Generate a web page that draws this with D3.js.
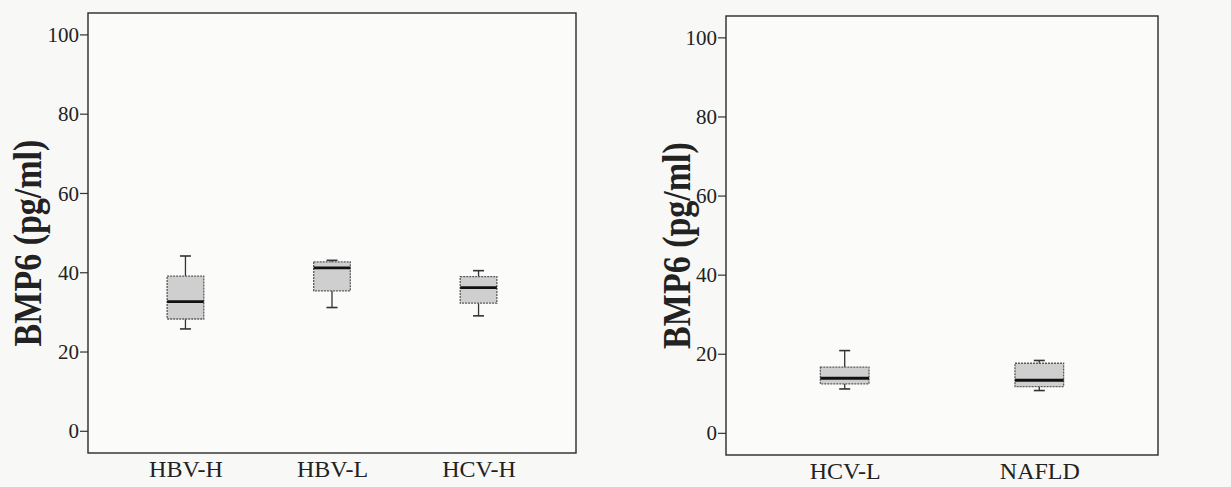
<!DOCTYPE html>
<html>
<head>
<meta charset="utf-8">
<script src="https://cdn.jsdelivr.net/npm/d3@7"></script>
<style>
  html, body { margin: 0; padding: 0; background: #f8f8f7; }
  svg { display: block; }
  text { font-family: "Liberation Serif", "Times New Roman", serif; fill: #222; }
</style>
</head>
<body>
<svg id="chart" width="1231" height="487"></svg>
<script>
// ---- Data ----
const yTicks = [0, 20, 40, 60, 80, 100];
const yLabel = "BMP6 (pg/ml)";

const cats1 = ["HBV-H", "HBV-L", "HCV-H"];
const min1  = [25.7, 31.1, 29.0];
const q1_1  = [28.2, 35.3, 32.2];
const med1  = [32.6, 41.1, 36.1];
const q3_1  = [39.0, 42.6, 38.9];
const max1  = [44.1, 43.0, 40.4];

const cats2 = ["HCV-L", "NAFLD"];
const min2  = [11.1, 10.7];
const q1_2  = [12.4, 11.7];
const med2  = [13.8, 13.3];
const q3_2  = [16.6, 17.6];
const max2  = [20.8, 18.3];

const svg = d3.select("#chart");

function panel(cfg) {
  const { left, right, top, bottom, padding, cats, mins, q1s, meds, q3s, maxs, labelX } = cfg;
  const g = svg.append("g");
  const x = d3.scalePoint().domain(cats).range([left, right]).padding(padding);
  const y = d3.scaleLinear().domain([-5.6, 105.4]).range([bottom, top]);

  // frame
  g.append("rect")
    .attr("x", left).attr("y", top)
    .attr("width", right - left).attr("height", bottom - top)
    .attr("fill", "#fbfbfa").attr("stroke", "#2a2a2a").attr("stroke-width", 1.4);

  // y axis
  const ax = g.append("g")
    .attr("transform", `translate(${left},0)`)
    .call(d3.axisLeft(y).tickValues(yTicks).tickSize(8).tickPadding(1));
  ax.select(".domain").remove();
  ax.selectAll(".tick line").attr("stroke", "#333").attr("stroke-width", 1.2);
  ax.selectAll(".tick text")
    .attr("font-family", "Liberation Serif")
    .attr("font-size", 21)
    .attr("fill", "#222")
    .attr("dy", "0.34em");

  // x labels
  const xa = g.append("g")
    .attr("transform", `translate(0,${bottom})`)
    .call(d3.axisBottom(x).tickSize(0).tickPadding(0));
  xa.select(".domain").remove();
  xa.selectAll(".tick text")
    .attr("font-family", "Liberation Serif")
    .attr("font-size", 24)
    .attr("fill", "#222")
    .attr("y", 0)
    .attr("dy", 24);

  // y title
  g.append("text")
    .attr("transform", `translate(${labelX},${(top + bottom) / 2 + 10}) scale(1.2,1) rotate(-90)`)
    .attr("text-anchor", "middle")
    .attr("dy", "0.35em")
    .attr("font-size", 34)
    .attr("font-weight", "bold")
    .attr("fill", "#151515")
    .text(yLabel);

  const bw = x.step() * 0.25;
  const cap = 11;
  const data = cats.map((c, i) => ({ c, lo: mins[i], q1: q1s[i], med: meds[i], q3: q3s[i], hi: maxs[i] }));
  const bx = g.selectAll(".box").data(data).enter().append("g").attr("class", "box");

  // whiskers
  bx.append("line")
    .attr("x1", d => x(d.c)).attr("x2", d => x(d.c))
    .attr("y1", d => y(d.hi)).attr("y2", d => y(d.q3))
    .attr("stroke", "#333").attr("stroke-width", 1.3);
  bx.append("line")
    .attr("x1", d => x(d.c)).attr("x2", d => x(d.c))
    .attr("y1", d => y(d.q1)).attr("y2", d => y(d.lo))
    .attr("stroke", "#333").attr("stroke-width", 1.3);
  bx.append("line")
    .attr("x1", d => x(d.c) - cap / 2).attr("x2", d => x(d.c) + cap / 2)
    .attr("y1", d => y(d.hi)).attr("y2", d => y(d.hi))
    .attr("stroke", "#333").attr("stroke-width", 1.6);
  bx.append("line")
    .attr("x1", d => x(d.c) - cap / 2).attr("x2", d => x(d.c) + cap / 2)
    .attr("y1", d => y(d.lo)).attr("y2", d => y(d.lo))
    .attr("stroke", "#333").attr("stroke-width", 1.6);
  // box
  bx.append("rect")
    .attr("x", d => x(d.c) - bw / 2).attr("width", bw)
    .attr("y", d => y(d.q3)).attr("height", d => y(d.q1) - y(d.q3))
    .attr("fill", "#cfcfcf").attr("stroke", "#5a5a5a").attr("stroke-width", 1.3)
    .attr("stroke-dasharray", "2,1");
  // median
  bx.append("line")
    .attr("x1", d => x(d.c) - bw / 2).attr("x2", d => x(d.c) + bw / 2)
    .attr("y1", d => y(d.med)).attr("y2", d => y(d.med))
    .attr("stroke", "#111").attr("stroke-width", 2.8);
}

panel({ left: 88, right: 576, top: 13, bottom: 453, padding: 0.665,
        cats: cats1, mins: min1, q1s: q1_1, meds: med1, q3s: q3_1, maxs: max1, labelX: 27 });
panel({ left: 726, right: 1158, top: 16, bottom: 455, padding: 0.61,
        cats: cats2, mins: min2, q1s: q1_2, meds: med2, q3s: q3_2, maxs: max2, labelX: 676 });
</script>
</body>
</html>
